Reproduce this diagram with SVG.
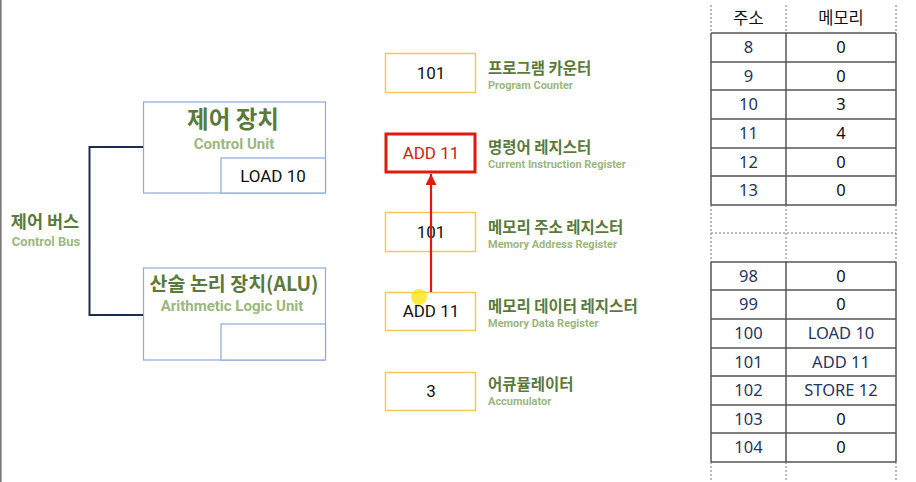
<svg xmlns="http://www.w3.org/2000/svg" width="916" height="482" viewBox="0 0 916 482">
<defs>
<style>
.ko{font-family:"Noto Sans CJK KR","Noto Sans",sans-serif;font-weight:700;fill:#5a7a3c}
.en{font-family:Roboto,"Liberation Sans",sans-serif;font-weight:700;fill:#9ab77e}
.blue{fill:#fff;stroke:#8eaad6;stroke-width:1.2}
.reg{fill:#fff;stroke:#f3c75a;stroke-width:1.5}
.val{font-family:Roboto,"Noto Sans",sans-serif;font-size:17px;fill:#111;text-anchor:middle}
.tb{font-family:"Noto Sans","Noto Sans CJK KR",sans-serif;font-size:16.5px;text-anchor:middle;fill:#1f3562}
.tk{fill:#111}
.solid{stroke:#555;stroke-width:1.5;fill:none}
.dash{stroke:#777;stroke-width:1;stroke-dasharray:2 2;fill:none}
</style>
<marker id="ah" markerWidth="11" markerHeight="11" refX="10" refY="5" orient="auto" markerUnits="userSpaceOnUse" viewBox="0 0 10 10">
<path d="M0,0 L10,5 L0,10 Z" fill="#e01b0c"/>
</marker>
</defs>
<rect x="0" y="0" width="916" height="482" fill="#fff"/>
<line x1="0.8" y1="0" x2="0.8" y2="482" stroke="#777" stroke-width="1.6"/>

<g id="control-bus">
<text class="ko" x="45" y="228" font-size="17.5" text-anchor="middle">제어 버스</text>
<text class="en" x="46" y="246" font-size="13" text-anchor="middle">Control Bus</text>
</g>

<g id="control-unit">
<rect class="blue" x="143.5" y="102" width="182" height="91"/>
<rect class="blue" x="221" y="158" width="104.5" height="35"/>
<text class="ko" x="233" y="128" font-size="23.5" text-anchor="middle">제어 장치</text>
<text class="en" x="234" y="149" font-size="15" text-anchor="middle">Control Unit</text>
<text class="val" x="273" y="182" font-size="16">LOAD 10</text>
</g>

<g id="alu">
<rect class="blue" x="143.5" y="268" width="182" height="92"/>
<rect class="blue" x="221" y="324" width="104.5" height="36"/>
<text class="ko" x="234" y="291" font-size="19.5" text-anchor="middle">산술 논리 장치(ALU)</text>
<text class="en" x="232" y="311" font-size="15" text-anchor="middle">Arithmetic Logic Unit</text>
</g>

<g id="program-counter">
<rect class="reg" x="385.5" y="53.5" width="90" height="39"/>
<text class="val" x="431" y="79">101</text>
<text class="ko" x="488" y="74" font-size="15.5">프로그램 카운터</text>
<text class="en" x="488" y="89" font-size="11">Program Counter</text>
</g>

<g id="instruction-register">
<rect x="386" y="134" width="89" height="38" fill="#fff" stroke="#e01b0c" stroke-width="3"/>
<text class="val" x="431" y="159" style="fill:#d42010">ADD 11</text>
<text class="ko" x="488" y="153" font-size="15.5">명령어 레지스터</text>
<text class="en" x="488" y="168" font-size="11">Current Instruction Register</text>
</g>

<g id="memory-address-register">
<rect class="reg" x="385.5" y="212.5" width="90" height="39"/>
<text class="val" x="431" y="238">101</text>
<text class="ko" x="488" y="233" font-size="15.5">메모리 주소 레지스터</text>
<text class="en" x="488" y="248" font-size="11">Memory Address Register</text>
</g>

<g id="memory-data-register">
<rect class="reg" x="385.5" y="292.5" width="90" height="38"/>
<text class="val" x="431" y="317">ADD 11</text>
<text class="ko" x="488" y="312" font-size="15.5">메모리 데이터 레지스터</text>
<text class="en" x="488" y="327" font-size="11">Memory Data Register</text>
</g>

<g id="accumulator">
<rect class="reg" x="385.5" y="372.5" width="90" height="38"/>
<text class="val" x="431" y="397">3</text>
<text class="ko" x="488" y="390" font-size="15.5">어큐뮬레이터</text>
<text class="en" x="488" y="405" font-size="11">Accumulator</text>
</g>

<g id="connectors">
<path d="M143,147 H89.5 V315 H143" fill="none" stroke="#1f2d4d" stroke-width="2"/>
<line x1="431" y1="292" x2="431" y2="174" stroke="#e01b0c" stroke-width="2.2" marker-end="url(#ah)"/>
</g>

<g id="memory-table">
<path class="dash" d="M711,5 V33 M786,5 V33 M896,5 V33 M711,205 V262 M786,205 V262 M896,205 V262 M711,462 V482 M786,462 V482 M896,462 V482 M711,233 H896"/>
<path class="solid" d="M711,33 H896 M711,62 H896 M711,90 H896 M711,119 H896 M711,148 H896 M711,176 H896 M711,205 H896 M711,33 V205 M786,33 V205 M896,33 V205"/>
<path class="solid" d="M711,262 H896 M711,290 H896 M711,319 H896 M711,348 H896 M711,376 H896 M711,405 H896 M711,433 H896 M711,462 H896 M711,262 V462 M786,262 V462 M896,262 V462"/>
<text class="tb tk" x="748.5" y="24" font-family="Noto Sans CJK KR">주소</text>
<text class="tb tk" x="841" y="24">메모리</text>
<text class="tb" x="748.5" y="53">8</text><text class="tb tk" x="841" y="53">0</text>
<text class="tb" x="748.5" y="82">9</text><text class="tb tk" x="841" y="82">0</text>
<text class="tb" x="748.5" y="110">10</text><text class="tb tk" x="841" y="110">3</text>
<text class="tb" x="748.5" y="139">11</text><text class="tb tk" x="841" y="139">4</text>
<text class="tb" x="748.5" y="168">12</text><text class="tb tk" x="841" y="168">0</text>
<text class="tb" x="748.5" y="196">13</text><text class="tb tk" x="841" y="196">0</text>
<text class="tb" x="748.5" y="282">98</text><text class="tb tk" x="841" y="282">0</text>
<text class="tb" x="748.5" y="310">99</text><text class="tb tk" x="841" y="310">0</text>
<text class="tb" x="748.5" y="339">100</text><text class="tb" x="841" y="339">LOAD 10</text>
<text class="tb" x="748.5" y="368">101</text><text class="tb" x="841" y="368">ADD 11</text>
<text class="tb" x="748.5" y="396">102</text><text class="tb" x="841" y="396">STORE 12</text>
<text class="tb" x="748.5" y="425">103</text><text class="tb tk" x="841" y="425">0</text>
<text class="tb" x="748.5" y="453">104</text><text class="tb tk" x="841" y="453">0</text>
</g>

<circle cx="419" cy="297" r="8" fill="#ffe100" opacity="0.75"/>
</svg>
